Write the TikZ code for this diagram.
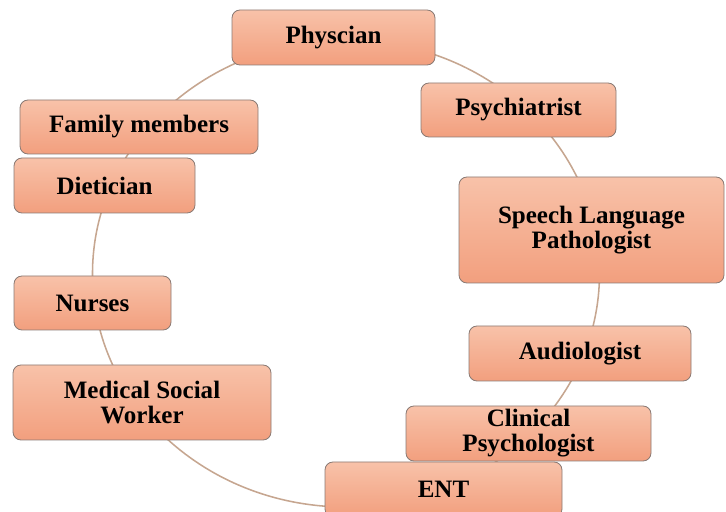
\documentclass[tikz,border=0pt]{standalone}
\usepackage{fontspec}
\setmainfont{Liberation Serif}
\definecolor{boxtop}{HTML}{F8C2A9}
\definecolor{boxbottom}{HTML}{F29F7E}
\definecolor{boxline}{HTML}{8A7A74}
\definecolor{ringline}{HTML}{C6A690}
\begin{document}
\begin{tikzpicture}[
        % Style for the team member boxes
        member/.style={rectangle, rounded corners=0.2cm, draw=boxline, line width=0.6pt,
            top color=boxtop, bottom color=boxbottom, align=center, inner sep=0pt,
            font=\fontsize{17.8}{17.8}\selectfont\bfseries},
        % Style for the ring behind the boxes
        ring/.style={draw=ringline, line width=1.1pt}
    ]
        \useasboundingbox (0,0) rectangle (18.15,12.8);

        % --- Ring that links the team ---
        \coordinate (C) at (8.65,5.9625);
        \draw[ring] (C) ellipse [x radius=6.3375cm, y radius=5.8375cm];

        % --- Boxes, clockwise from the top ---
        \node[member, minimum width=5.075cm, minimum height=1.375cm] (phys) at (8.3375,11.8625) {Physcian};
        \node[member, minimum width=4.875cm, minimum height=1.35cm] (psych) at (12.9625,10.05) {Psychiatrist};
        \node[member, minimum width=6.625cm, minimum height=2.65cm] (slp) at (14.7875,7.05) {Speech Language\\Pathologist};
        \node[member, minimum width=5.55cm, minimum height=1.375cm] (aud) at (14.5,3.9625) {Audiologist};
        \node[member, minimum width=6.125cm, minimum height=1.375cm] (clin) at (13.2125,1.9625) {Clinical\\Psychologist};
        \node[member, minimum width=5.925cm, minimum height=1.375cm] (ent) at (11.0875,0.5625) {ENT};
        \node[member, minimum width=6.45cm, minimum height=1.875cm] (msw) at (3.55,2.7375) {Medical Social\\Worker};
        \node[member, minimum width=3.925cm, minimum height=1.35cm] (nurse) at (2.3125,5.225) {Nurses};
        \node[member, minimum width=4.525cm, minimum height=1.375cm] (diet) at (2.6125,8.1625) {Dietician};
        \node[member, minimum width=5.95cm, minimum height=1.35cm] (fam) at (3.475,9.625) {Family members};

    \end{tikzpicture}
\end{document}
